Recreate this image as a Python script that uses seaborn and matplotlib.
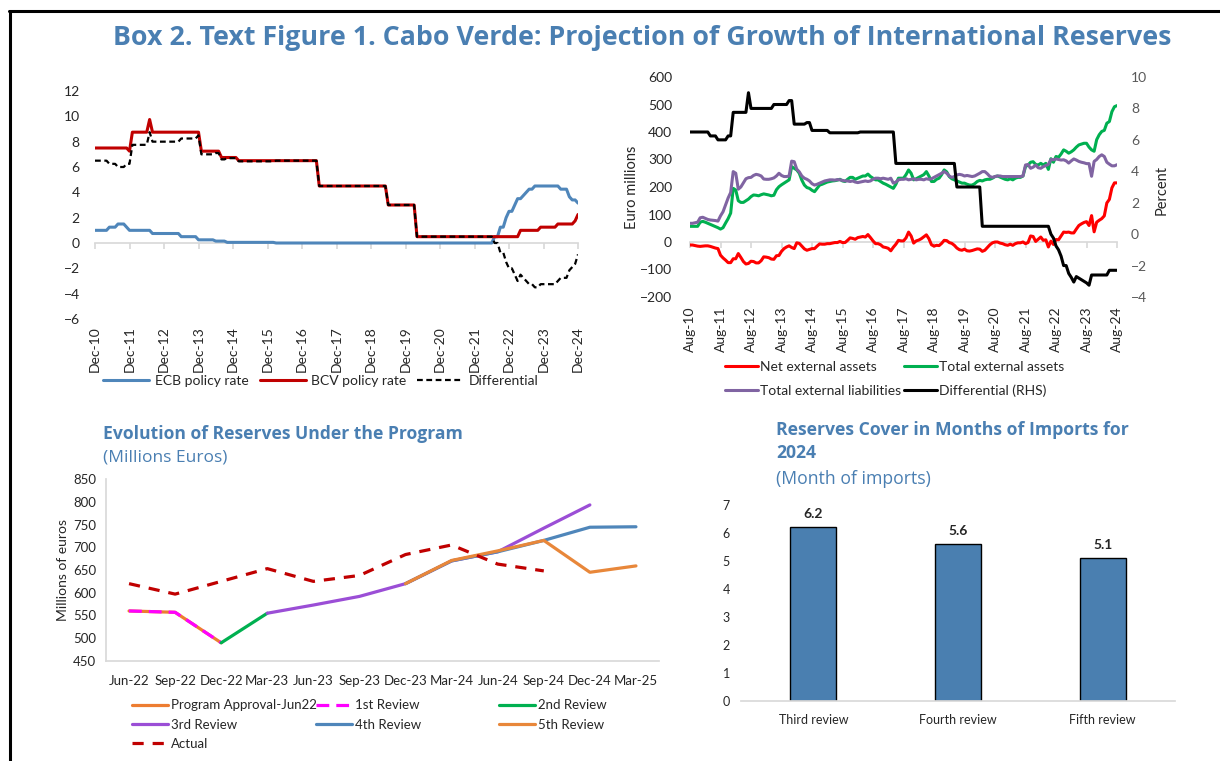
import numpy as np
import pandas as pd
import matplotlib
matplotlib.use("Agg")
import matplotlib.pyplot as plt
import seaborn as sns
from matplotlib.lines import Line2D

# ---------------------------------------------------------------
# Top-left: policy rates, monthly Dec-10 .. Dec-24 (percent)
# ---------------------------------------------------------------
rate_months = pd.date_range("2010-12-01", "2024-12-01", freq="MS")
bcv_rate = ([7.5] * 12 + [7.25] + [8.75] * 6 + [9.75] + [8.75] * 17 + [7.25] * 7
            + [6.75] * 6 + [6.5] * 28 + [4.5] * 24 + [3.0] * 10 + [0.5] * 36
            + [1.0] * 7 + [1.25] * 6 + [1.5] * 6 + [1.75, 2.25])
ecb_rate = ([1.0] * 5 + [1.25] * 3 + [1.5] * 3 + [1.25] + [1.0] * 8 + [0.75] * 10
            + [0.5] * 6 + [0.25] * 6 + [0.15] * 4 + [0.05] * 17 + [0.0] * 76
            + [0.5, 0.5, 1.25, 1.25, 2.0, 2.5, 2.5, 3.0, 3.5, 3.5, 3.75, 4.0, 4.25, 4.25]
            + [4.5] * 9 + [4.25] * 3 + [3.65, 3.4, 3.4, 3.15])

# ---------------------------------------------------------------
# Top-right: external position, monthly Aug-10 .. Aug-24 (EUR mn)
# ---------------------------------------------------------------
position_months = pd.date_range("2010-08-01", "2024-08-01", freq="MS")
total_assets = [
    57, 57, 57, 57, 72, 75, 72, 68, 64, 60, 56, 52,
    47, 52, 69, 85, 105, 195, 189, 150, 144, 144, 150, 156,
    165, 171, 170, 168, 172, 175, 173, 171, 168, 170, 190, 201,
    208, 214, 220, 226, 274, 268, 262, 250, 225, 207, 198, 195,
    188, 183, 195, 207, 210, 214, 218, 220, 222, 223, 225, 228,
    222, 220, 228, 235, 235, 228, 232, 236, 240, 240, 247, 238,
    232, 226, 226, 220, 214, 210, 205, 200, 195, 210, 232, 232,
    232, 245, 262, 250, 226, 230, 235, 240, 245, 256, 240, 220,
    220, 228, 232, 245, 262, 255, 238, 230, 226, 222, 218, 214,
    214, 210, 207, 207, 212, 220, 224, 222, 226, 228, 228, 232,
    238, 240, 236, 232, 228, 226, 230, 226, 232, 235, 235, 240,
    274, 280, 290, 292, 282, 280, 286, 280, 286, 264, 303, 290,
    311, 308, 320, 335, 330, 323, 328, 335, 345, 353, 356, 359,
    359, 345, 335, 330, 372, 390, 402, 406, 432, 438, 474, 492,
    496,
]
total_liabilities = [
    68, 68, 70, 72, 88, 90, 86, 82, 80, 79, 78, 76,
    95, 110, 135, 160, 180, 256, 250, 192, 200, 215, 230, 234,
    235, 242, 246, 244, 240, 229, 228, 228, 230, 233, 240, 250,
    242, 238, 238, 240, 294, 292, 265, 255, 240, 232, 228, 222,
    212, 207, 210, 214, 218, 222, 224, 226, 226, 225, 227, 226,
    224, 222, 222, 220, 222, 218, 216, 218, 220, 222, 220, 222,
    228, 232, 232, 230, 232, 230, 228, 232, 214, 218, 226, 228,
    228, 230, 226, 228, 230, 226, 228, 228, 226, 230, 228, 230,
    235, 240, 245, 250, 256, 250, 240, 235, 238, 244, 246, 244,
    240, 242, 240, 238, 240, 245, 250, 256, 256, 248, 238, 235,
    238, 240, 240, 238, 238, 238, 238, 238, 238, 238, 238, 240,
    280, 282, 268, 272, 280, 270, 268, 274, 278, 282, 300, 299,
    302, 300, 298, 299, 295, 287, 295, 302, 298, 293, 290, 288,
    285, 285, 239, 293, 300, 311, 317, 311, 290, 283, 277, 277,
    281,
]
rate_differential = ([6.5] * 8 + [6.25] * 3 + [6.0] * 4 + [6.25] * 2 + [7.75] * 6 + [9.0]
                     + [8.0] * 9 + [8.25] * 6 + [8.5] * 2 + [7.0] * 5 + [7.1] * 2
                     + [6.6] * 7 + [6.45] * 12 + [6.5] * 14 + [4.5] * 24 + [3.0] * 10
                     + [0.5] * 27
                     + [0.0, -0.25, -0.75, -1.0, -1.4, -2.0, -2.0, -2.5, -2.75, -3.05,
                        -2.7, -2.8, -2.9, -3.0, -3.1, -3.25]
                     + [-2.6] * 7 + [-2.3] * 4)

# ---------------------------------------------------------------
# Bottom-left: reserves under the program (EUR mn)
# ---------------------------------------------------------------
quarters = ["Jun-22", "Sep-22", "Dec-22", "Mar-23", "Jun-23", "Sep-23",
            "Dec-23", "Mar-24", "Jun-24", "Sep-24", "Dec-24", "Mar-25"]
program_approval = [560, 557, 490]
review_1 = [560, 557, 490]
review_2 = [490, 555]
review_3 = [555, 573, 592, 620, 670, 690, 742, 793]
review_4 = [620, 670, 690, 715, 744, 745]
review_5 = [620, 671, 692, 715, 645, 659]
actual = [620, 597, 625, 653, 625, 638, 684, 705, 663, 648]

# ---------------------------------------------------------------
# Bottom-right: reserve cover for 2024 (months of imports)
# ---------------------------------------------------------------
reviews = ["Third review", "Fourth review", "Fifth review"]
import_cover = [6.2, 5.6, 5.1]

TITLE_BLUE = "#4a7fb2"
GRID_GRAY = "#d9d9d9"
W, H = 1220, 761

sns.set_theme(style="white")
plt.rcParams["font.family"] = ["Lato", "DejaVu Sans"]


def fx(px):
    return px / W


def fy(px):
    return 1 - px / H


def axes_box(x0, y0, x1, y1):
    """Pixel box (left, top, right, bottom) -> figure fraction rect."""
    return [fx(x0), fy(y1), fx(x1) - fx(x0), fy(y0) - fy(y1)]


fig = plt.figure(figsize=(W / 100, H / 100), dpi=100)

# ---------------- panel 1 ----------------
rates = pd.DataFrame({"month": np.arange(len(rate_months)),
                      "ECB policy rate": ecb_rate,
                      "BCV policy rate": bcv_rate})
rates["Differential"] = rates["BCV policy rate"] - rates["ECB policy rate"]

ax1 = fig.add_axes(axes_box(95, 91, 578, 319))
sns.lineplot(data=rates, x="month", y="ECB policy rate", ax=ax1, color="#4f86ba",
             lw=2.2, label="ECB policy rate", legend=False, errorbar=None, estimator=None)
sns.lineplot(data=rates, x="month", y="BCV policy rate", ax=ax1, color="#c00000",
             lw=2.2, label="BCV policy rate", legend=False, errorbar=None, estimator=None)
sns.lineplot(data=rates, x="month", y="Differential", ax=ax1, color="black",
             lw=1.6, linestyle=(0, (2.6, 1.6)), label="Differential", legend=False,
             errorbar=None, estimator=None)
ax1.set_xlim(0, len(rate_months) - 1)
ax1.set_ylim(-6, 12)
ax1.set_yticks(range(-6, 13, 2))
yearly = list(range(0, len(rate_months), 12))
ax1.set_xticks(yearly)
ax1.set_xticklabels(rate_months[yearly].strftime("%b-%y"), rotation=90)
ax1.tick_params(axis="x", length=0, labelsize=10, pad=5)
ax1.tick_params(axis="y", length=0, labelsize=10, pad=11)
ax1.set_xlabel("")
ax1.set_ylabel("")
sns.despine(ax=ax1, left=True, bottom=True)
zero1 = ax1.secondary_xaxis(6 / 18)
zero1.set_xticks(yearly)
zero1.tick_params(length=4, color=GRID_GRAY, labelbottom=False)
zero1.spines["bottom"].set_color(GRID_GRAY)
h1, l1 = ax1.get_legend_handles_labels()
fig.legend(h1, l1, loc="center", bbox_to_anchor=(fx(321), fy(381)), ncol=3,
           frameon=False, fontsize=10, handlelength=3.3, handletextpad=0.4,
           columnspacing=0.8)

# ---------------- panel 2 ----------------
position = pd.DataFrame({"month": np.arange(len(position_months)),
                         "Total external assets": total_assets,
                         "Total external liabilities": total_liabilities,
                         "Differential (RHS)": rate_differential})
position["Net external assets"] = (position["Total external assets"]
                                   - position["Total external liabilities"])

ax2 = fig.add_axes(axes_box(690, 77, 1117, 297))
for col, colour in [("Net external assets", "#ff0000"),
                    ("Total external assets", "#00b050"),
                    ("Total external liabilities", "#8064a2")]:
    sns.lineplot(data=position, x="month", y=col, ax=ax2, color=colour, lw=2.2,
                 label=col, legend=False, errorbar=None, estimator=None)
ax2.set_xlim(0, len(position_months) - 1)
ax2.set_ylim(-200, 600)
ax2.set_yticks(range(-200, 601, 100))
yearly2 = list(range(0, len(position_months), 12))
ax2.set_xticks(yearly2)
ax2.set_xticklabels(position_months[yearly2].strftime("%b-%y"), rotation=90)
ax2.tick_params(axis="x", length=0, labelsize=10, pad=7)
ax2.tick_params(axis="y", length=0, labelsize=10, pad=13)
ax2.set_xlabel("")
ax2.set_ylabel("")
ax2r = ax2.twinx()
sns.lineplot(data=position, x="month", y="Differential (RHS)", ax=ax2r, color="black",
             lw=2.2, label="Differential (RHS)", legend=False, errorbar=None,
             estimator=None)
ax2r.set_ylim(-4, 10)
ax2r.set_yticks(range(-4, 11, 2))
ax2r.tick_params(axis="y", length=0, labelsize=10, labelcolor="#595959", pad=10)
ax2r.set_ylabel("")
ax2r.grid(False)
for a in (ax2, ax2r):
    for s in a.spines.values():
        s.set_visible(False)
zero2 = ax2.secondary_xaxis(200 / 800)
zero2.set_xticks(yearly2)
zero2.tick_params(length=4, color=GRID_GRAY, labelbottom=False)
zero2.spines["bottom"].set_color(GRID_GRAY)
fig.text(fx(632), fy(187), "Euro millions", rotation=90, ha="center", va="center",
         fontsize=10.5)
fig.text(fx(1162), fy(190), "Percent", rotation=90, ha="center", va="center",
         fontsize=10.5)
h2, l2 = ax2.get_legend_handles_labels()
h2r, l2r = ax2r.get_legend_handles_labels()
# column-first fill: Net, Liabilities | Assets, Differential
order = [h2[0], h2[2], h2[1], h2r[0]]
order_l = [l2[0], l2[2], l2[1], l2r[0]]
fig.legend(order, order_l, loc="center left", bbox_to_anchor=(fx(712), fy(379)),
           ncol=2, frameon=False, fontsize=10, handlelength=2.4, handletextpad=0.15,
           columnspacing=0.2, labelspacing=0.85)

# ---------------- panel 3 ----------------
def quarter_frame(start, values):
    i0 = quarters.index(start)
    return pd.DataFrame({"pos": np.arange(i0, i0 + len(values)), "value": values})


ax3 = fig.add_axes(axes_box(106, 479, 659, 661))
series3 = [
    ("Program Approval-Jun22", "Jun-22", program_approval, "#ed7d31", "-"),
    ("1st Review", "Jun-22", review_1, "#ff00ff", (0, (4, 2.2))),
    ("2nd Review", "Dec-22", review_2, "#00b050", "-"),
    ("3rd Review", "Mar-23", review_3, "#9b4ed6", "-"),
    ("4th Review", "Dec-23", review_4, "#4f86ba", "-"),
    ("5th Review", "Dec-23", review_5, "#e8873a", "-"),
    ("Actual", "Jun-22", actual, "#c00000", (0, (3.5, 2.8))),
]
lines3 = {}
for name, start, vals, colour, ls in series3:
    sns.lineplot(data=quarter_frame(start, vals), x="pos", y="value", ax=ax3,
                 color=colour, lw=2.3, linestyle=ls, label=name, legend=False,
                 errorbar=None, estimator=None)
    lines3[name] = ax3.get_lines()[-1]
ax3.set_xlim(-0.5, len(quarters) - 0.5)
ax3.set_ylim(450, 850)
ax3.set_yticks(range(450, 851, 50))
ax3.set_xticks(range(len(quarters)))
ax3.set_xticklabels(quarters)
ax3.set_xticks(np.arange(0.5, len(quarters) - 1, 1), minor=True)
ax3.tick_params(axis="x", which="major", length=0, labelsize=9.5, pad=10)
ax3.tick_params(axis="x", which="minor", length=4, direction="in", color=GRID_GRAY)
ax3.tick_params(axis="y", length=4, color=GRID_GRAY, labelsize=9.5, pad=3)
ax3.set_xlabel("")
ax3.set_ylabel("")
sns.despine(ax=ax3)
for s in ("left", "bottom"):
    ax3.spines[s].set_color(GRID_GRAY)
fig.text(fx(63), fy(570), "Millions of euros", rotation=90, ha="center", va="center",
         fontsize=10)
fig.text(fx(103), fy(434), "Evolution of Reserves Under the Program", ha="left",
         va="center", fontsize=12.6, fontweight="bold", color=TITLE_BLUE,
         family="Open Sans")
fig.text(fx(103), fy(457), "(Millions Euros)", ha="left", va="center", fontsize=12.5,
         color=TITLE_BLUE, family="Open Sans")
legend_cols = [(133, ["Program Approval-Jun22", "3rd Review", "Actual"]),
               (317, ["1st Review", "4th Review"]),
               (500, ["2nd Review", "5th Review"])]
for x0, names in legend_cols:
    fig.legend([lines3[n] for n in names], names, loc="upper left",
               bbox_to_anchor=(fx(x0 - 6), fy(694)), frameon=False, fontsize=9.5,
               handlelength=2.7, handletextpad=0.2, labelspacing=0.55,
               borderaxespad=0)

# ---------------- panel 4 ----------------
ax4 = fig.add_axes(axes_box(741, 505, 1175, 701))
sns.barplot(x=reviews, y=import_cover, ax=ax4, color="#4a7fb0", saturation=1,
            edgecolor="black", linewidth=1, width=0.32)
ax4.bar_label(ax4.containers[0], fmt="%.1f", padding=5, fontsize=10,
              fontweight="bold")
ax4.set_ylim(0, 7)
ax4.set_yticks(range(0, 8))
ax4.tick_params(axis="both", length=0, labelsize=9)
ax4.tick_params(axis="y", pad=8)
ax4.tick_params(axis="x", pad=9)
sns.despine(ax=ax4, left=True)
ax4.spines["bottom"].set_color(GRID_GRAY)
fig.text(fx(776), fy(430), "Reserves Cover in Months of Imports for", ha="left",
         va="center", fontsize=12.7, fontweight="bold", color=TITLE_BLUE,
         family="Open Sans")
fig.text(fx(776), fy(453), "2024", ha="left", va="center", fontsize=12.7,
         fontweight="bold", color=TITLE_BLUE, family="Open Sans")
fig.text(fx(776), fy(479), "(Month of imports)", ha="left", va="center", fontsize=12.7,
         color=TITLE_BLUE, family="Open Sans")

# ---------------- frame and main title ----------------
fig.text(fx(642), fy(38),
         "Box 2. Text Figure 1. Cabo Verde: Projection of Growth of International Reserves",
         ha="center", va="center", fontsize=19.3, fontweight="bold", color=TITLE_BLUE,
         family="Open Sans")
fig.add_artist(Line2D([fx(9), 1], [fy(11), fy(11)], color="black", lw=2.2,
                      transform=fig.transFigure))
fig.add_artist(Line2D([fx(10), fx(10)], [0, fy(11)], color="black", lw=2.2,
                      transform=fig.transFigure))

fig.savefig("out.png", dpi=100)
